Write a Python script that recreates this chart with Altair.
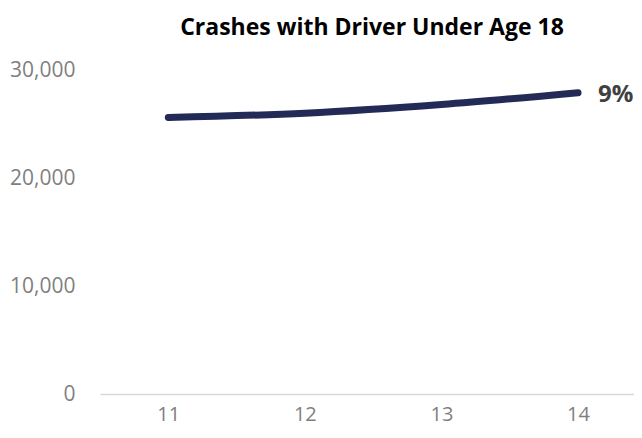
import altair as alt
import pandas as pd

years = [11, 12, 13, 14]
crashes = [25600, 26000, 26800, 27900]
end_label = ["", "", "", "9%"]

df = pd.DataFrame({"year": years, "crashes": crashes, "label": end_label})

FONT = "Open Sans"

x = alt.X("year:Q",
          scale=alt.Scale(domain=[10.5, 14.41], nice=False, zero=False),
          axis=alt.Axis(values=years, format="d", title=None, grid=False, ticks=False,
                        labelFontSize=20, labelColor="#7f7f7f", labelFont=FONT,
                        labelPadding=10, domainColor="#d9d9d9", domainWidth=1.5,
                        labelFlush=False))
y = alt.Y("crashes:Q",
          scale=alt.Scale(domain=[0, 30000], nice=False),
          axis=alt.Axis(values=[0, 10000, 20000, 30000], format=",d", title=None, grid=False,
                        ticks=False, domain=False, labelFontSize=21, labelColor="#7f7f7f",
                        labelFont=FONT, labelPadding=25))

line = alt.Chart(df).mark_line(color="#232a56", strokeWidth=7, strokeCap="round",
                               interpolate="monotone").encode(x=x, y=y)

text = alt.Chart(df).mark_text(align="left", baseline="middle", dx=20, dy=2,
                               fontSize=24, fontWeight="bold", color="#404040",
                               font=FONT).encode(x=x, y=y, text="label:N")

chart = (line + text).properties(
    width=534, height=324,
    title=alt.TitleParams("Crashes with Driver Under Age 18", fontSize=23, fontWeight="bold",
                          font=FONT, color="#000000", anchor="middle", offset=19, dx=5),
    autosize=alt.AutoSizeParams(type="none"),
    padding={"left": 92, "top": 62, "right": 0, "bottom": 36},
).configure_view(stroke=None)

chart.save("out.html", embed_options={"renderer": "svg", "actions": False})
